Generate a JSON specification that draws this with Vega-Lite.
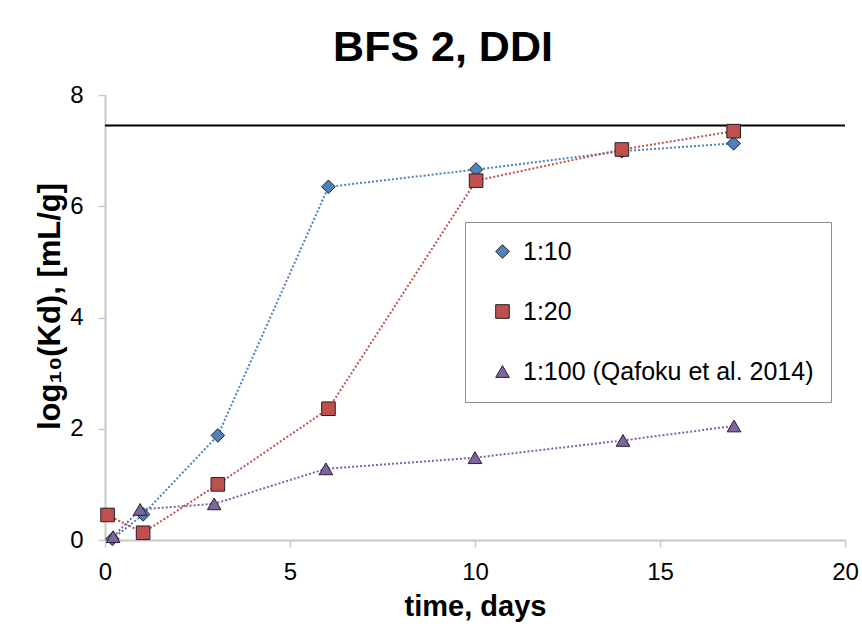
{
  "$schema": "https://vega.github.io/schema/vega-lite/v6.json",
  "width": 740,
  "height": 445,
  "autosize": {"type": "none"},
  "padding": {"left": 105, "top": 95, "right": 17, "bottom": 94},
  "background": "white",
  "title": {"text": "BFS 2, DDI", "fontSize": 43, "fontWeight": "bold", "font": "Liberation Sans", "color": "#000", "anchor": "middle", "dx": -32, "dy": 53, "baseline": "alphabetic", "offset": 32},
  "config": {
    "view": {"stroke": null},
    "font": "Liberation Sans"
  },
  "data": {"values": [
      {"ratio": "1:10", "line": "a", "day": 0.2, "logKd": 0.02},
      {"ratio": "1:10", "line": "a", "day": 1.03, "logKd": 0.46},
      {"ratio": "1:10", "line": "a", "day": 3.05, "logKd": 1.88},
      {"ratio": "1:10", "line": "a", "day": 6.04, "logKd": 6.35},
      {"ratio": "1:10", "line": "a", "day": 10.03, "logKd": 6.66},
      {"ratio": "1:10", "line": "a", "day": 13.97, "logKd": 6.99},
      {"ratio": "1:10", "line": "a", "day": 16.99, "logKd": 7.13},
      {"ratio": "1:20", "line": "b", "day": 0.07, "logKd": 0.45},
      {"ratio": "1:20", "line": "b", "day": 1.03, "logKd": 0.13},
      {"ratio": "1:20", "line": "b", "day": 3.05, "logKd": 1.0},
      {"ratio": "1:20", "line": "b", "day": 6.04, "logKd": 2.36},
      {"ratio": "1:20", "line": "b", "day": 10.03, "logKd": 6.46},
      {"ratio": "1:20", "line": "b", "day": 13.97, "logKd": 7.02},
      {"ratio": "1:20", "line": "b", "day": 16.99, "logKd": 7.35},
      {"ratio": "1:100 (Qafoku et al. 2014)", "line": "c", "day": 0.22, "logKd": 0.06},
      {"ratio": "1:100 (Qafoku et al. 2014)", "line": "c", "day": 0.95, "logKd": 0.55},
      {"ratio": "1:100 (Qafoku et al. 2014)", "line": "c", "day": 2.95, "logKd": 0.65},
      {"ratio": "1:100 (Qafoku et al. 2014)", "line": "c", "day": 5.97, "logKd": 1.28},
      {"ratio": "1:100 (Qafoku et al. 2014)", "line": "c", "day": 10.0, "logKd": 1.48},
      {"ratio": "1:100 (Qafoku et al. 2014)", "line": "c", "day": 14.0, "logKd": 1.79},
      {"ratio": "1:100 (Qafoku et al. 2014)", "line": "c", "day": 17.0, "logKd": 2.05}
  ]},
  "encoding": {
    "x": {
      "field": "day", "type": "quantitative",
      "scale": {"domain": [0, 20], "nice": false, "zero": false},
      "axis": {
        "title": "time, days", "values": [0, 5, 10, 15, 20], "grid": false, "labelFlush": false,
        "domainColor": "#c8c8c8", "domainWidth": 2, "tickColor": "#c8c8c8", "tickWidth": 1.5, "tickSize": 7,
        "labelFontSize": 24, "labelColor": "#000", "labelBaseline": "alphabetic", "labelPadding": 32,
        "titleFontSize": 29, "titleFontWeight": "bold", "titleColor": "#000", "titleY": 75, "titleBaseline": "alphabetic"
      }
    },
    "y": {
      "field": "logKd", "type": "quantitative",
      "scale": {"domain": [0, 8], "nice": false},
      "axis": {
        "title": "log₁₀(Kd), [mL/g]", "values": [0, 2, 4, 6, 8], "grid": false, "labelFlush": false,
        "domainColor": "#c8c8c8", "domainWidth": 2, "tickColor": "#c8c8c8", "tickWidth": 1.5, "tickSize": 7,
        "labelFontSize": 24, "labelColor": "#000", "labelPadding": 15,
        "titleFontSize": 31, "titleFontWeight": "bold", "titleColor": "#000",
        "titleX": -55, "titleY": 211, "titleAlign": "center", "titleBaseline": "middle", "titleAngle": -90
      }
    }
  },
  "layer": [
    {
      "data": {"values": [{"level": 7.45, "start": 0, "end": 20}]},
      "mark": {"type": "rule", "color": "#000", "strokeWidth": 2},
      "encoding": {
        "x": {"field": "start", "type": "quantitative"},
        "x2": {"field": "end"},
        "y": {"field": "level", "type": "quantitative"}
      }
    },
    {
      "mark": {"type": "line", "strokeDash": [2, 2], "strokeWidth": 2},
      "encoding": {
        "stroke": {"field": "line", "type": "nominal", "legend": null,
          "scale": {"domain": ["a", "b", "c"], "range": ["#4F81BD", "#C0504D", "#8064A2"]}}
      }
    },
    {
      "mark": {"type": "point", "filled": true, "opacity": 1, "stroke": "#222", "strokeWidth": 1, "size": 185},
      "encoding": {
        "color": {"field": "ratio", "type": "nominal",
          "scale": {"domain": ["1:10", "1:20", "1:100 (Qafoku et al. 2014)"], "range": ["#4F81BD", "#C0504D", "#8064A2"]},
          "legend": {
            "title": null, "orient": "none", "legendX": 360, "legendY": 127, "padding": 17,
            "strokeColor": "#8c8c8c",
            "labelFontSize": 25, "labelColor": "#000", "labelFont": "Liberation Sans",
            "rowPadding": 34, "symbolOffset": 8, "labelOffset": 8, "symbolSize": 185,
            "symbolStrokeColor": "#222", "symbolStrokeWidth": 1, "labelLimit": 400
          }},
        "shape": {"field": "ratio", "type": "nominal",
          "scale": {"domain": ["1:10", "1:20", "1:100 (Qafoku et al. 2014)"], "range": ["diamond", "square", "triangle-up"]},
          "legend": {
            "title": null, "orient": "none", "legendX": 360, "legendY": 127, "padding": 17,
            "strokeColor": "#8c8c8c",
            "labelFontSize": 25, "labelColor": "#000", "labelFont": "Liberation Sans",
            "rowPadding": 34, "symbolOffset": 8, "labelOffset": 8, "symbolSize": 185,
            "symbolStrokeColor": "#222", "symbolStrokeWidth": 1, "labelLimit": 400
          }}
      }
    }
  ]
}
